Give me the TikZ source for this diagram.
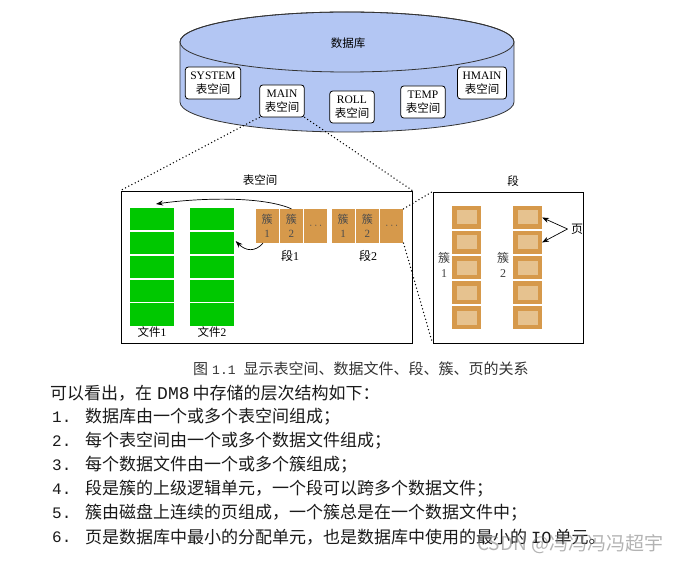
\documentclass[tikz,border=0pt]{standalone}
\usepackage{fontspec}
\setmainfont{Liberation Serif}
\newfontfamily\cjk{Noto Sans CJK SC}
\newfontfamily\mono{Liberation Mono}
\usetikzlibrary{positioning,arrows.meta,shadows}
\definecolor{dbblue}{HTML}{B3C6F3}
\definecolor{filegreen}{HTML}{00C800}
\definecolor{clus}{HTML}{D6994B}
\definecolor{pagein}{HTML}{E6C28F}
\definecolor{ink}{HTML}{1A1A1A}
\newcommand\fsz[2]{\fontsize{#1}{#2}\selectfont}

\begin{document}
\begin{tikzpicture}[x=1pt,y=-1pt,node distance=1pt,
  tsbox/.style={rounded corners=3pt,draw,line width=0.8pt,fill=white,inner xsep=5pt,inner ysep=1pt,minimum height=32pt,align=center,font=\fsz{11.5}{14}},
  frame/.style={draw,line width=0.9pt,fill=white,drop shadow={shadow xshift=1.2pt,shadow yshift=-1.2pt,fill=black!60}},
  lbl/.style={font=\fsz{11.5}{14},align=center},
  cell/.style={fill=filegreen,minimum width=44pt,minimum height=22.2pt,inner sep=0pt},
  clu/.style={fill=clus,minimum width=23pt,minimum height=34pt,inner sep=0pt,align=center,text=black!70,font=\fsz{11}{14}},
  pg/.style={draw=clus,line width=4.5pt,fill=pagein,minimum width=24.5pt,minimum height=18.5pt,inner sep=0pt},
  arr/.style={-{Stealth[length=7pt,width=5pt]},line width=0.7pt},
  dots/.style={line width=1.5pt,line cap=round,dash pattern=on 0pt off 3.6pt},
  listtxt/.style={anchor=west,inner sep=0pt,text=ink,font=\cjk\fsz{17}{20}},
  listnum/.style={anchor=west,inner sep=0pt,text=ink,font=\mono\fsz{16}{20}}]
\useasboundingbox (0,0) rectangle (682,561);
% database cylinder
\path[draw=black!80,fill=dbblue,line width=0.8pt] (180,42) -- (180,102)
  arc[start angle=180,end angle=0,x radius=167,y radius=30] -- (514,42)
  arc[start angle=0,end angle=-180,x radius=167,y radius=30] -- cycle;
\draw[black!80,line width=0.8pt] (347,42) ellipse[x radius=167,y radius=30];
\node[lbl] (db) at (348,43) {\cjk 数据库};
\node[tsbox] (sys) at (213,83) {SYSTEM\\{\cjk 表空间}};
\node[tsbox] (main) at (282,101) {MAIN\\{\cjk 表空间}};
\node[tsbox] (roll) at (352,107) {ROLL\\{\cjk 表空间}};
\node[tsbox] (temp) at (423,102) {TEMP\\{\cjk 表空间}};
\node[tsbox] (hmain) at (482,83) {HMAIN\\{\cjk 表空间}};
% tablespace
\node[frame,minimum width=291pt,minimum height=152pt] (tsf) at (266.5,267) {};
\node[lbl] (tsl) at (260,180) {\cjk 表空间};
\node[cell] (f1a) at (152,219.3) {};
\node[cell,below=1.2pt of f1a] (f1b) {};
\node[cell,below=1.2pt of f1b] (f1c) {};
\node[cell,below=1.2pt of f1c] (f1d) {};
\node[cell,below=1.2pt of f1d] (f1e) {};
\node[cell] (f2a) at (211.5,219.3) {};
\node[cell,below=1.2pt of f2a] (f2b) {};
\node[cell,below=1.2pt of f2b] (f2c) {};
\node[cell,below=1.2pt of f2c] (f2d) {};
\node[cell,below=1.2pt of f2d] (f2e) {};
\node[lbl] (f1l) at (152,332) {{\cjk 文件}1};
\node[lbl] (f2l) at (212,332) {{\cjk 文件}2};
\node[clu] (a1) at (267,226) {{\cjk 簇}\\1};
\node[clu,right=of a1] (a2) {{\cjk 簇}\\2};
\node[clu,right=of a2] (a3) {$\cdots$};
\node[clu] (b1) at (343,226) {{\cjk 簇}\\1};
\node[clu,right=of b1] (b2) {{\cjk 簇}\\2};
\node[clu,right=of b2] (b3) {$\cdots$};
\node[lbl,font=\fsz{12}{14}] (s1l) at (290,256) {{\cjk 段}1};
\node[lbl,font=\fsz{12}{14}] (s2l) at (368,256) {{\cjk 段}2};
\draw[arr] (a2.north) .. controls +(-30,-13) and +(42,-6) .. ([xshift=4pt,yshift=4pt]f1a.north);
\draw[arr] ([xshift=-4pt]a1.south) .. controls +(-8,9) and +(10,10) .. ([xshift=2pt,yshift=2pt]f2b.east);
% segment
\node[frame,minimum width=150pt,minimum height=151pt] (sgf) at (508,267.5) {};
\node[lbl] (sgl) at (513,181) {\cjk 段};
\node[pg] (p11) at (466.5,217.5) {};
\node[pg,below=2pt of p11] (p12) {};
\node[pg,below=2pt of p12] (p13) {};
\node[pg,below=2pt of p13] (p14) {};
\node[pg,below=2pt of p14] (p15) {};
\node[pg] (p21) at (527.5,217.5) {};
\node[pg,below=2pt of p21] (p22) {};
\node[pg,below=2pt of p22] (p23) {};
\node[pg,below=2pt of p23] (p24) {};
\node[pg,below=2pt of p24] (p25) {};
\node[lbl,font=\fsz{12}{15},text=black!75] (k1) at (444,265) {{\cjk 簇}\\1};
\node[lbl,font=\fsz{12}{15},text=black!75] (k2) at (503,265) {{\cjk 簇}\\2};
\node[lbl,font=\fsz{12}{14}] (pl) at (577,229) {\cjk 页};
\draw[arr] (pl.west) -- (p21.east);
\draw[arr] (pl.west) -- (p22.east);
% dotted zoom lines
\draw[dots] (main.south west) -- (tsf.north west);
\draw[dots] (main.south east) -- (tsf.north east);
\draw[dots] (b3.north east) -- (sgf.north west);
\draw[dots] (b3.south east) -- (sgf.south west);
% caption and list
\node[anchor=west,inner sep=0pt,text=black!80,font=\cjk\fsz{15}{18}] (cap) at (193,369) {图\hspace{4pt}{\mono\fsz{13}{15}1.1}\hspace{8pt}显示表空间、数据文件、段、簇、页的关系};
\node[listtxt] (l0) at (50,393) {可以看出，在\hspace{5pt}{\mono\fsz{18}{20}DM8}\hspace{3pt}中存储的层次结构如下：};
\node[listnum] (n1) at (52,417) {1.};
\node[listtxt] (l1) at (85,417) {数据库由一个或多个表空间组成；};
\node[listnum] (n2) at (52,441) {2.};
\node[listtxt] (l2) at (85,441) {每个表空间由一个或多个数据文件组成；};
\node[listnum] (n3) at (52,465) {3.};
\node[listtxt] (l3) at (85,465) {每个数据文件由一个或多个簇组成；};
\node[listnum] (n4) at (52,489) {4.};
\node[listtxt] (l4) at (85,489) {段是簇的上级逻辑单元，一个段可以跨多个数据文件；};
\node[listnum] (n5) at (52,513) {5.};
\node[listtxt] (l5) at (85,513) {簇由磁盘上连续的页组成，一个簇总是在一个数据文件中；};
\node[listnum] (n6) at (52,537) {6.};
\node[listtxt] (l6) at (85,537) {页是数据库中最小的分配单元，也是数据库中使用的最小的\hspace{4pt}{\mono IO}\hspace{3pt}单元。};
\node[anchor=west,inner sep=0pt,text=gray,opacity=0.6,font=\cjk\fsz{19}{22}] (wm) at (477,544) {CSDN @冯冯冯冯超宇};
\end{tikzpicture}
\end{document}
